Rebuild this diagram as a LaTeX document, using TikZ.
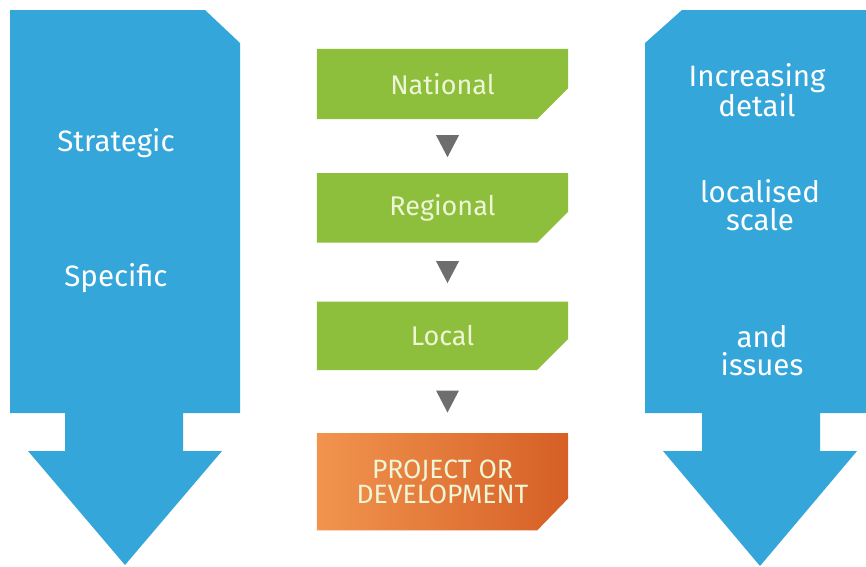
\documentclass[tikz,border=0pt]{standalone}
\usepackage{fontspec}
\setmainfont{Fira Sans}
\usetikzlibrary{positioning,calc,backgrounds}
\definecolor{arrowblue}{RGB}{52,166,218}
\definecolor{stagegreen}{RGB}{141,190,60}
\definecolor{arrowgrey}{RGB}{110,110,110}
\definecolor{orangelight}{RGB}{241,148,78}
\definecolor{orangedark}{RGB}{214,95,38}
\definecolor{paletext}{RGB}{238,246,214}
\tikzset{
  stage/.style={rectangle, minimum width=251pt, inner sep=0pt, text=paletext,
    font=\fontsize{27}{26}\selectfont, align=center},
}
\tikzstyle{bigarrow}=[fill=arrowblue]
\tikzstyle{side}=[text=white, align=center, inner sep=1pt,
  font=\fontsize{29.5}{28}\selectfont]
\tikzstyle{tri}=[fill=arrowgrey]

\begin{document}
\begin{tikzpicture}[x=1pt,y=-1pt]
    \useasboundingbox (0,0) rectangle (866,566);
    % left and right arrows
    \fill[bigarrow] (10,10) -- (205,10) -- (240,43) -- (240,413) -- (183,413)
      -- (183,451) -- (222,451) -- (125,565) -- (28,451) -- (65,451)
      -- (65,413) -- (10,413) -- cycle;
    \fill[bigarrow] (682,10) -- (866,10) -- (866,413) -- (820,413)
      -- (820,451) -- (857,451) -- (760,566) -- (663,451) -- (702,451)
      -- (702,413) -- (645,413) -- (645,43) -- cycle;
    \node[side] (strat) at (116,143) {Strategic};
    \node[side] (spec) at (116,278) {Specific};
    \node[side] (incr) at (757,90) {Increasing\\detail};
    \node[side] (locs) at (760,205) {localised\\scale};
    \node[side] (iss) at (762,351) {and\\issues};
    % stages
    \node[stage, minimum height=70pt] (nat) at (442.5,84) {National};
    \node[stage, minimum height=69pt, below=54pt of nat] (reg) {Regional};
    \node[stage, minimum height=68pt, below=59pt of reg] (loc) {Local};
    \node[stage, minimum height=97pt, below=63pt of loc,
      font=\fontsize{26.5}{25}\selectfont] (proj) {PROJECT OR\\DEVELOPMENT};
    \begin{scope}[on background layer]
      \foreach \s in {nat,reg,loc}
        \fill[stagegreen] (\s.north west) -- (\s.north east) -- ($(\s.south east)+(0,-31)$)
          -- ($(\s.south east)+(-31,0)$) -- (\s.south west) -- cycle;
      \shade[left color=orangelight, right color=orangedark] (proj.north west) -- (proj.north east)
        -- ($(proj.south east)+(0,-32)$) -- ($(proj.south east)+(-31,0)$) -- (proj.south west) -- cycle;
    \end{scope}
    \foreach \a/\b in {nat/reg,reg/loc,loc/proj}
      \fill[tri] ($(\a.south)!.5!(\b.north)+(-6.5,-11)$) -- ++(23,0) -- ++(-11.5,22) -- cycle;
\end{tikzpicture}
\end{document}
